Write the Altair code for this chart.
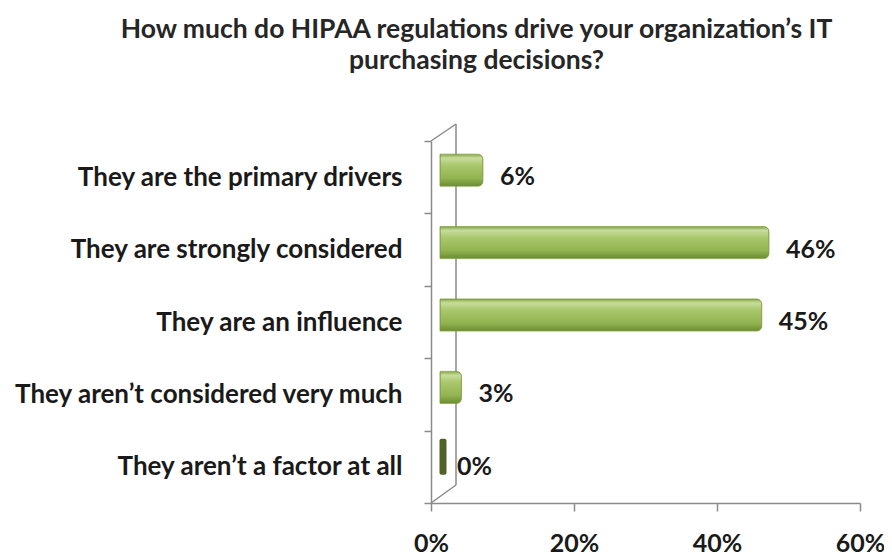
import altair as alt
import pandas as pd

categories = [
    "They are the primary drivers",
    "They are strongly considered",
    "They are an influence",
    "They aren\u2019t considered very much",
    "They aren\u2019t a factor at all",
]
values = [0.06, 0.46, 0.45, 0.03, 0.00]
labels = ["6%", "46%", "45%", "3%", "0%"]
x_ticks = [0, 0.2, 0.4, 0.6]

df = pd.DataFrame({"category": categories, "value": values, "label": labels})

FONT = "Lato"
AXIS_GREY = "#8a8a8a"
W, H = 429, 362
DEPTH_X = 9   # pseudo-3D shift of the bars to the right
DEPTH_Y = 7   # pseudo-3D shift of the bars upwards

y_axis = alt.Axis(
    tickBand="extent",
    tickSize=7,
    tickColor=AXIS_GREY,
    domainColor=AXIS_GREY,
    domainWidth=1.5,
    tickWidth=1.5,
    labelFont=FONT,
    labelFontSize=26,
    labelFontWeight="bold",
    labelColor="#1a1a1a",
    labelPadding=22,
    labelLimit=500,
)
y_main = alt.Y("category:N", title=None,
               scale=alt.Scale(domain=categories, paddingInner=0, paddingOuter=0),
               axis=y_axis)


def y_shift(dy):
    return alt.Y("category:N", title=None,
                 scale=alt.Scale(domain=categories, paddingInner=0, paddingOuter=0,
                                 range=[-dy, H - dy]),
                 axis=None)


x_axis = alt.Axis(
    values=x_ticks,
    format=".0%",
    grid=False,
    tickSize=8,
    tickColor=AXIS_GREY,
    domainColor=AXIS_GREY,
    domainWidth=1.5,
    tickWidth=1.5,
    labelFont=FONT,
    labelFontSize=25,
    labelFontWeight="bold",
    labelColor="#1a1a1a",
    labelPadding=20,
    labelFlush=False,
)

x_main = alt.X("value:Q", title=None,
               scale=alt.Scale(domain=[0, 0.6], nice=False), axis=x_axis)


def x_shift(dx):
    return alt.X("value:Q", title=None,
                 scale=alt.Scale(domain=[0, 0.6], nice=False, range=[dx, W + dx]),
                 axis=None)


grad = alt.Gradient(
    gradient="linear",
    stops=[
        alt.GradientStop(color="#86a843", offset=0),
        alt.GradientStop(color="#c8dc9e", offset=0.12),
        alt.GradientStop(color="#a9c76b", offset=0.35),
        alt.GradientStop(color="#93b452", offset=0.75),
        alt.GradientStop(color="#6c8c30", offset=1),
    ],
    x1=0, x2=0, y1=0, y2=1,
)

base = alt.Chart(df)

bars = base.transform_filter("datum.value > 0").mark_bar(
    height=32, cornerRadiusEnd=5, color=grad, stroke="#7c9c3c", strokeWidth=0.8
).encode(x=x_shift(DEPTH_X), y=y_shift(DEPTH_Y))

zero = base.transform_filter("datum.value == 0").mark_tick(
    orient="vertical", thickness=7, size=36, color="#4f6228",
    opacity=1, cornerRadius=2
).encode(x=x_shift(DEPTH_X + 3), y=y_shift(10))

text = base.mark_text(
    align="left", dx=26, font=FONT, fontSize=25, fontWeight="bold", color="#1a1a1a"
).encode(x=x_main, y=y_main, text="label:N")

wall_data = alt.Data(values=[{"a": 1}])
wall_top = alt.Chart(wall_data).mark_rule(color=AXIS_GREY, strokeWidth=1.5).encode(
    x=alt.value(0), y=alt.value(0), x2=alt.value(25), y2=alt.value(-17)
)
wall_back = alt.Chart(wall_data).mark_rule(color=AXIS_GREY, strokeWidth=1.5).encode(
    x=alt.value(25), y=alt.value(-17), x2=alt.value(25), y2=alt.value(344)
)
wall_bottom = alt.Chart(wall_data).mark_rule(color=AXIS_GREY, strokeWidth=1.5).encode(
    x=alt.value(0), y=alt.value(362), x2=alt.value(25), y2=alt.value(344)
)

chart = (
    alt.layer(wall_top, wall_back, wall_bottom, bars, zero, text)
    .resolve_scale(x="independent", y="independent")
    .properties(
        width=W,
        height=H,
        autosize=alt.AutoSizeParams(type="none"),
        padding={"left": 423, "top": 133, "right": 24, "bottom": 55},
        title=alt.TitleParams(
            text=[
                "How much do HIPAA regulations drive your organization\u2019s IT",
                "purchasing decisions?",
            ],
            font=FONT,
            fontSize=26.5,
            fontWeight="bold",
            color="#262626",
            anchor="middle",
            frame="group",
            dx=-169,
            offset=49,
            lineHeight=31,
        ),
    )
    .configure_view(stroke=None)
)

chart.save("out.html", embed_options={"renderer": "svg", "actions": False})
